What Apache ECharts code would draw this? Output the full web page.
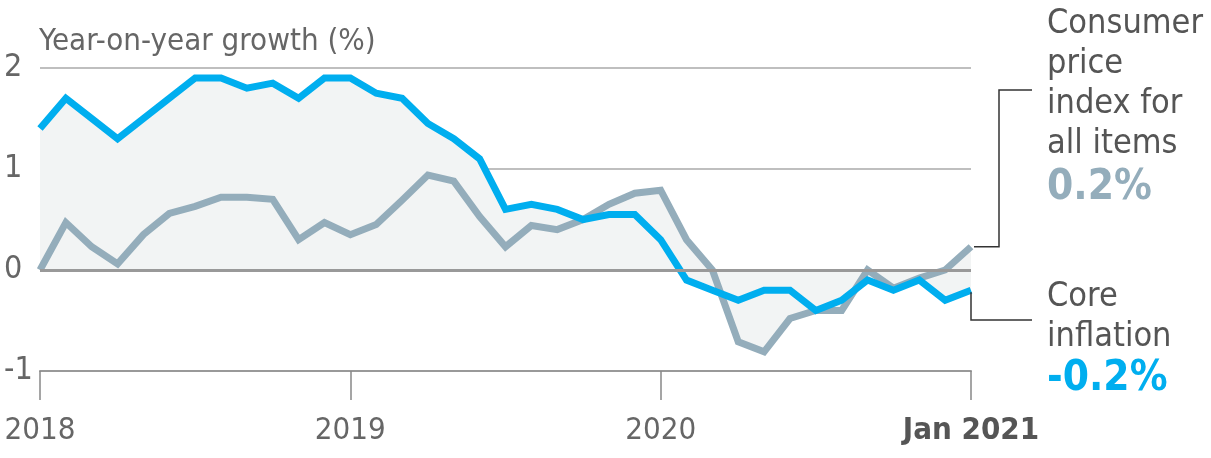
<!DOCTYPE html>
<html>
<head>
<meta charset="utf-8">
<script src="https://cdn.jsdelivr.net/npm/echarts@6/dist/echarts.min.js"></script>
<style>
  html, body { margin: 0; padding: 0; background: #fff; }
  #main { width: 1211px; height: 458px; }
</style>
</head>
<body>
<div id="main"></div>
<script>
// month categories, Jan 2018 .. Jan 2021
var months = [
  '2018-01','2018-02','2018-03','2018-04','2018-05','2018-06','2018-07','2018-08','2018-09','2018-10','2018-11','2018-12',
  '2019-01','2019-02','2019-03','2019-04','2019-05','2019-06','2019-07','2019-08','2019-09','2019-10','2019-11','2019-12',
  '2020-01','2020-02','2020-03','2020-04','2020-05','2020-06','2020-07','2020-08','2020-09','2020-10','2020-11','2020-12',
  '2021-01'
];
// core inflation (blue)
var coreInflation = [
  1.4, 1.7, 1.5, 1.3, 1.5, 1.7, 1.9, 1.9, 1.8, 1.85, 1.7, 1.9,
  1.9, 1.75, 1.7, 1.45, 1.3, 1.1, 0.6, 0.65, 0.6, 0.5, 0.55, 0.55,
  0.3, -0.1, -0.2, -0.3, -0.2, -0.2, -0.4, -0.3, -0.1, -0.2, -0.1, -0.3,
  -0.2
];
// CPI all items (grey)
var cpiAll = [
  0, 0.47, 0.23, 0.06, 0.35, 0.56, 0.63, 0.72, 0.72, 0.7, 0.3, 0.47,
  0.35, 0.45, 0.69, 0.94, 0.88, 0.53, 0.23, 0.44, 0.4, 0.5, 0.65, 0.76,
  0.79, 0.3, 0, -0.71, -0.81, -0.48, -0.4, -0.4, 0, -0.18, -0.08, 0,
  0.23
];
// which categories get a tick + label
var tickLabels = { 0: '2018', 12: '2019', 24: '2020', 36: '{b|Jan 2021}' };

var FONT = '"Liberation Sans Narrow", "DejaVu Sans Condensed", "Roboto", sans-serif';
var BLUE = '#00aeef';
var GREY = '#94adbb';
var FILL = '#f2f4f4';

var myChart = echarts.init(document.getElementById('main'));

var option = {
  animation: false,
  textStyle: { fontFamily: FONT },
  grid: { left: 40, right: 240, top: 68, bottom: 87, containLabel: false, outerBoundsMode: 'none' },
  title: {
    text: 'Year-on-year growth (%)',
    left: 39,
    top: 26,
    padding: 0,
    textStyle: { fontFamily: FONT, fontSize: 31, fontWeight: 'normal', color: '#666' }
  },
  xAxis: {
    type: 'category',
    data: months,
    boundaryGap: false,
    axisLine: { onZero: false, lineStyle: { color: '#999', width: 2 } },
    axisTick: {
      length: 29,
      lineStyle: { color: '#888', width: 1.5 },
      interval: function (idx) { return idx % 12 === 0; }
    },
    axisLabel: {
      interval: function (idx) { return idx % 12 === 0; },
      formatter: function (v, idx) { return tickLabels[idx] || ''; },
      margin: 44,
      color: '#666',
      fontFamily: FONT,
      fontSize: 31,
      rich: {
        b: { fontFamily: FONT, fontSize: 31, fontWeight: 'bold', color: '#555' }
      }
    }
  },
  yAxis: {
    type: 'value',
    min: -1,
    max: 2,
    interval: 1,
    axisLine: { show: false },
    axisTick: { show: false },
    axisLabel: { color: '#666', fontFamily: FONT, fontSize: 32, margin: 36, align: 'left' },
    splitLine: {
      lineStyle: { color: ['rgba(0,0,0,0)', '#aaa', '#aaa', '#aaa'], width: 1.5 }
    }
  },
  series: [
    {
      name: 'area-core', type: 'line', data: coreInflation, z: 1,
      symbol: 'none', silent: true,
      lineStyle: { width: 0 },
      areaStyle: { color: FILL, opacity: 1 }
    },
    {
      name: 'area-cpi', type: 'line', data: cpiAll, z: 1,
      symbol: 'none', silent: true,
      lineStyle: { width: 0 },
      areaStyle: { color: FILL, opacity: 1 },
      markLine: {
        silent: true, symbol: 'none', label: { show: false },
        lineStyle: { color: '#999', width: 3, type: 'solid' },
        data: [{ yAxis: 0 }]
      }
    },
    {
      name: 'Consumer price index for all items', type: 'line', data: cpiAll, z: 3,
      symbol: 'none',
      lineStyle: { color: GREY, width: 7, join: 'miter' }
    },
    {
      name: 'Core inflation', type: 'line', data: coreInflation, z: 4,
      symbol: 'none',
      lineStyle: { color: BLUE, width: 7, join: 'miter' }
    }
  ]
};
myChart.setOption(option);

// end labels + connectors, anchored to the last data points
var last = months.length - 1;
var pCpi = myChart.convertToPixel({ seriesIndex: 2 }, [last, cpiAll[last]]);
var pCore = myChart.convertToPixel({ seriesIndex: 3 }, [last, coreInflation[last]]);
var labelX = 1047;

myChart.setOption({
  graphic: [
    {
      type: 'polyline', z: 10,
      shape: { points: [[pCpi[0] + 3, pCpi[1]], [999, pCpi[1]], [999, 90], [1032, 90]] },
      style: { stroke: '#333', lineWidth: 1.5, fill: null }
    },
    {
      type: 'polyline', z: 10,
      shape: { points: [[pCore[0], pCore[1] + 2], [pCore[0], 320], [1032, 320]] },
      style: { stroke: '#333', lineWidth: 1.5, fill: null }
    },
    {
      type: 'text', left: labelX, top: 4,
      style: {
        text: 'Consumer\nprice\nindex for\nall items',
        font: '34px ' + FONT, fill: '#555', lineHeight: 40
      }
    },
    {
      type: 'text', left: labelX, top: 167,
      style: { text: '0.2%', font: 'bold 42px ' + FONT, fill: GREY }
    },
    {
      type: 'text', left: labelX, top: 277,
      style: {
        text: 'Core\ninflation',
        font: '34px ' + FONT, fill: '#555', lineHeight: 40
      }
    },
    {
      type: 'text', left: labelX, top: 358,
      style: { text: '-0.2%', font: 'bold 42px ' + FONT, fill: BLUE }
    }
  ]
});
</script>
</body>
</html>
